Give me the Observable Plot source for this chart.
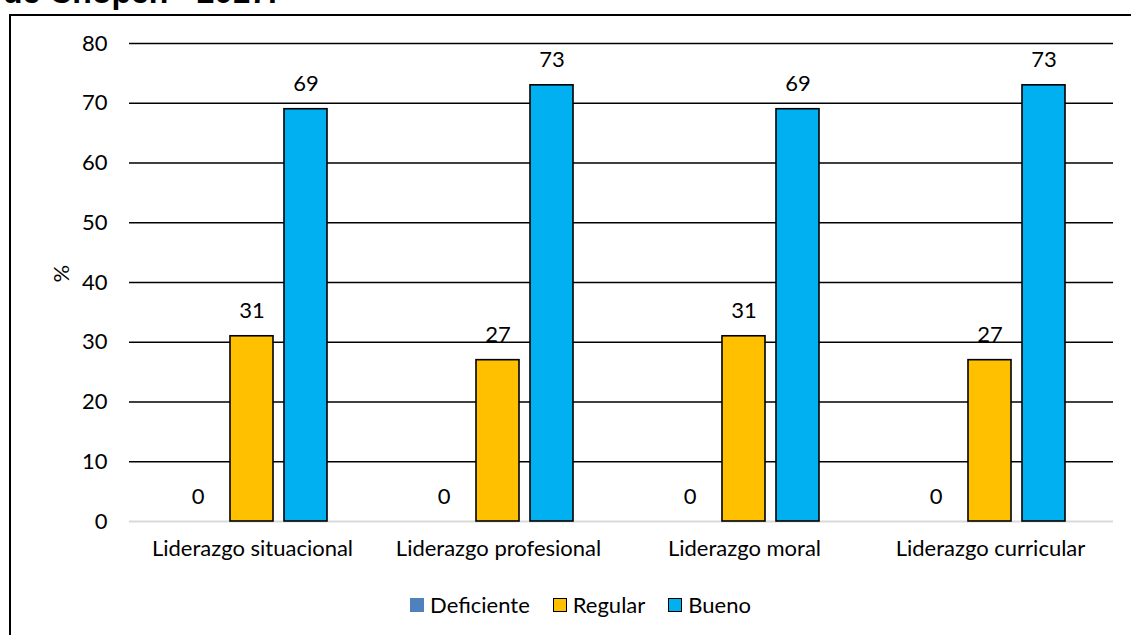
<!DOCTYPE html>
<html>
<head>
<meta charset="utf-8">
<script src="https://cdn.jsdelivr.net/npm/d3@7"></script>
<script src="https://cdn.jsdelivr.net/npm/@observablehq/plot@0.6"></script>
<style>
  html, body { margin: 0; padding: 0; background: #fff; }
  #page { position: relative; width: 1131px; height: 635px; overflow: hidden; font-family: Lato, "Noto Sans", sans-serif; }
  #title { position: absolute; left: 3px; top: -26px; font: bold 32px/36px "Liberation Sans", Arial, sans-serif; color: #000; white-space: nowrap; }
  #frame { position: absolute; left: 9px; top: 14px; width: 1200px; height: 700px; border-left: 2px solid #000; border-top: 2px solid #000; }
  #grid, #chart { position: absolute; left: 0; top: 0; }
  #legend { position: absolute; left: 0; width: 1131px; top: 591px; display: flex; justify-content: center; gap: 23px; font-size: 22px; color: #000; padding-left: 30px; box-sizing: border-box; }
  #legend .item { display: flex; align-items: center; gap: 6px; }
  #legend .sw { width: 14px; height: 14px; box-sizing: border-box; }
</style>
</head>
<body>
<div id="page">
  <div id="title">de Chopen - 2017.</div>
  <div id="frame"></div>
  <div id="grid"></div>
  <div id="chart"></div>
  <div id="legend"></div>
</div>
<script>
// Leadership dimensions and the share (%) of each rating level
const categories = ["Liderazgo situacional", "Liderazgo profesional", "Liderazgo moral", "Liderazgo curricular"];
const levels = ["Deficiente", "Regular", "Bueno"];
const deficiente = [0, 0, 0, 0];
const regular = [31, 27, 31, 27];
const bueno = [69, 73, 69, 73];
const yTicks = [0, 10, 20, 30, 40, 50, 60, 70, 80];
const colors = ["#4F81BD", "#FFC000", "#00B0F0"];

const series = [deficiente, regular, bueno];
const rows = categories.flatMap((c, i) => levels.map((l, j) => ({cat: c, level: l, value: series[j][i]})));

const font = "Lato, 'Noto Sans', sans-serif";
const fs = 22;
const dims = {width: 1131, height: 570, marginLeft: 129, marginRight: 18, marginTop: 43, marginBottom: 49};
const yScale = {domain: [0, 80], ticks: yTicks, tickSize: 0, tickPadding: 22, label: null};

// Background layer: horizontal gridlines, y axis and its "%" title
const grid = Plot.plot({
  ...dims,
  style: {fontFamily: font, fontSize: fs + "px", color: "#000", background: "transparent", overflow: "visible"},
  y: yScale,
  marks: [
    Plot.ruleY(yTicks.filter(d => d > 0), {stroke: "#000", strokeWidth: 1.6}),
    Plot.ruleY([0], {stroke: "#d9d9d9", strokeWidth: 2}),
    Plot.text(["%"], {frameAnchor: "left", dx: -68, rotate: -90, fontSize: fs, fill: "#000"})
  ]
});
document.getElementById("grid").appendChild(grid);

// Foreground layer: grouped bars with their value labels
const chart = Plot.plot({
  ...dims,
  style: {fontFamily: font, fontSize: fs + "px", color: "#000", background: "transparent", overflow: "visible"},
  fx: {domain: categories, paddingInner: 0.384, paddingOuter: 0.192, label: null, tickSize: 0, tickPadding: 19},
  x: {domain: levels, paddingInner: 0.2, paddingOuter: 0, axis: null},
  y: {...yScale, axis: null},
  color: {domain: levels, range: colors},
  marks: [
    Plot.barY(rows.filter(d => d.value > 0), {fx: "cat", x: "level", y: "value", fill: "level", stroke: "#000", strokeWidth: 1.6}),
    Plot.text(rows, {fx: "cat", x: "level", y: "value", text: d => String(d.value), dy: -25, fontSize: fs, fill: "#000"})
  ]
});
document.getElementById("chart").appendChild(chart);

const legend = document.getElementById("legend");
levels.forEach((l, i) => {
  const item = document.createElement("div");
  item.className = "item";
  const sw = document.createElement("span");
  sw.className = "sw";
  sw.style.background = colors[i];
  if (i > 0) sw.style.border = "1.5px solid #000";
  const t = document.createElement("span");
  t.textContent = l;
  item.appendChild(sw);
  item.appendChild(t);
  legend.appendChild(item);
});
</script>
</body>
</html>
